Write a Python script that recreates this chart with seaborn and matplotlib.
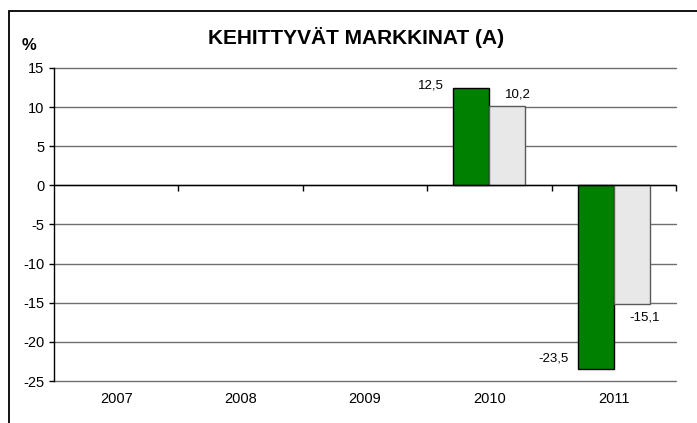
import numpy as np
import pandas as pd
import matplotlib
matplotlib.use("Agg")
import matplotlib.pyplot as plt
from matplotlib.patches import Rectangle
import seaborn as sns

years = ["2007", "2008", "2009", "2010", "2011"]
fund = [np.nan, np.nan, np.nan, 12.5, -23.5]
index = [np.nan, np.nan, np.nan, 10.2, -15.1]
series_names = ["Rahasto", "Vertailuindeksi"]
y_ticks = [-25, -20, -15, -10, -5, 0, 5, 10, 15]
title = "KEHITTYVÄT MARKKINAT (A)"

df = pd.DataFrame({
    "year": years * 2,
    "value": fund + index,
    "series": [series_names[0]] * len(years) + [series_names[1]] * len(years),
})

sns.set_style("white")
plt.rcParams["font.family"] = ["Liberation Sans", "DejaVu Sans"]
plt.rcParams["axes.unicode_minus"] = False

fig = plt.figure(figsize=(6.97, 4.23), dpi=100)
ax = fig.add_axes([54 / 697, 1 - 381 / 423, (676 - 54) / 697, (381 - 68) / 423])

palette = {series_names[0]: "#008000", series_names[1]: "#E8E8E8"}
sns.barplot(data=df, x="year", y="value", hue="series", order=years,
            hue_order=series_names, palette=palette, width=0.58,
            saturation=1, legend=False, ax=ax, errorbar=None)

edge_colors = ["#000000", "#5a5a5a"]
for ci, cont in enumerate(ax.containers):
    for bar in cont:
        bar.set_edgecolor(edge_colors[ci])
        bar.set_linewidth(1.0)

ax.set_ylim(-25, 15)
ax.set_xlim(-0.5, len(years) - 0.5)
ax.set_yticks(y_ticks)
ax.set_yticklabels([str(t) for t in y_ticks])
ax.set_xlabel("")
ax.set_ylabel("")
ax.yaxis.grid(True, color="#6e6e6e", linewidth=1.0)
for gl in ax.get_ygridlines():
    gl.set_clip_on(False)
ax.set_axisbelow(True)
ax.axhline(0, color="black", linewidth=1.0, zorder=1)

for s in ["top", "right", "bottom"]:
    ax.spines[s].set_visible(False)
ax.spines["left"].set_color("black")
ax.spines["left"].set_linewidth(1.0)

ax.tick_params(axis="y", which="both", left=True, direction="out", length=3.6,
               width=1, color="black", labelsize=10.5, pad=3.5, labelcolor="black")
ax.tick_params(axis="x", length=0, labelsize=10.5, pad=8, labelcolor="black")

# boundary tick marks on the zero line
ax2 = ax.twiny()
ax2.set_xlim(ax.get_xlim())
ax2.xaxis.set_ticks_position("bottom")
ax2.spines["bottom"].set_position(("data", 0))
for s in ["top", "right", "left", "bottom"]:
    ax2.spines[s].set_visible(False)
ax2.set_xticks(np.arange(0.5, len(years), 1.0))
ax2.set_xticklabels([])
ax2.tick_params(axis="x", direction="out", length=4, width=1, color="black")

# data labels
for ci, cont in enumerate(ax.containers):
    for bar in cont:
        h = bar.get_height()
        if not np.isfinite(h):
            continue
        label = f"{h:.1f}".replace(".", ",")
        x_left = bar.get_x()
        x_mid = bar.get_x() + bar.get_width() / 2
        if ci == 0:
            dy = 2 if h > 0 else 11
            ax.annotate(label, xy=(x_left, h), xytext=(-9, dy),
                        textcoords="offset pixels", ha="right", va="center",
                        fontsize=9.5, color="black")
        else:
            dy = 11 if h > 0 else -14
            ax.annotate(label, xy=(x_mid, h), xytext=(-2, dy),
                        textcoords="offset pixels", ha="left", va="center",
                        fontsize=9.5, color="black")

fig.text(356 / 697, 1 - 38 / 423, title, ha="center", va="center",
         fontsize=15, fontweight="bold", color="black")
fig.text(22 / 697, 1 - 45 / 423, "%", ha="left", va="center",
         fontsize=12, fontweight="bold", color="black")

fig.patches.append(Rectangle((8.5 / 697, -0.2), 1.2, 1.2 - 10.5 / 423,
                             transform=fig.transFigure, fill=False,
                             edgecolor="black", linewidth=1.3))

fig.savefig("out.png", dpi=100)
